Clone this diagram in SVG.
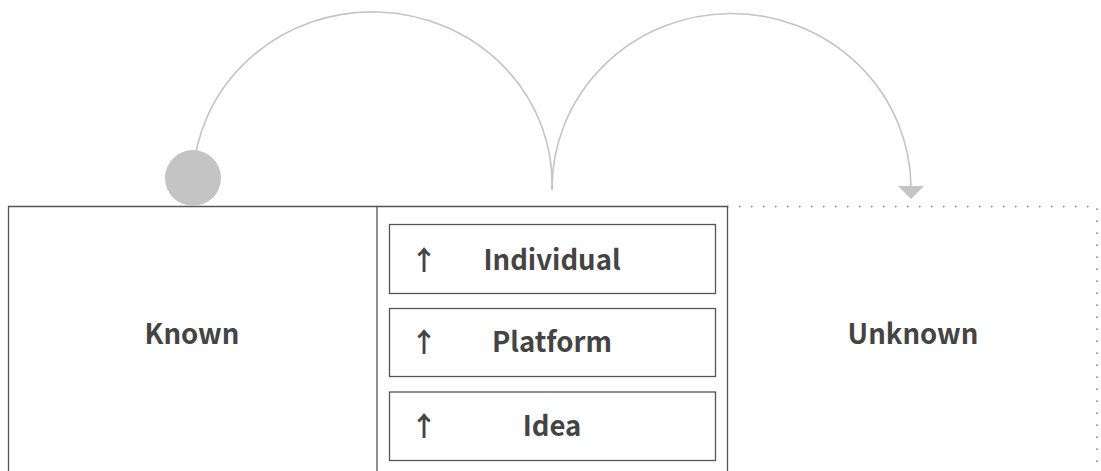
<svg xmlns="http://www.w3.org/2000/svg" width="1101" height="471" viewBox="0 0 1101 471">
<style>
.frame{fill:none;stroke:#555;stroke-width:1.3}
.dotted{fill:none;stroke:#777;stroke-width:1.5;stroke-dasharray:1.5 10.5}
.conn{fill:none;stroke:#c4c4c4;stroke-width:1.6}
.lbl{font-family:"Noto Sans CJK SC","Noto Sans",sans-serif;font-weight:700;font-size:27.5px;fill:#444;text-anchor:middle}
.arr{font-family:"Noto Sans CJK SC","Noto Sans",sans-serif;font-weight:700;font-size:27px;fill:#444;text-anchor:middle}
</style>
<rect width="1101" height="471" fill="#fff"/>
<g id="unknown">
<path class="dotted" d="M727,206.5 H1097 V471"/>
<text class="lbl" x="913" y="344">Unknown</text>
</g>
<g id="known">
<path class="frame" d="M8.5,471 V206.5 H377"/>
<text class="lbl" x="192" y="344">Known</text>
</g>
<g id="middle">
<path class="frame" d="M377,471 V206.5 H727.5 V471"/>
</g>
<g id="individual">
<rect class="frame" x="389.5" y="224.5" width="326" height="69"/>
<text class="arr" x="424" y="270">↑</text>
<text class="lbl" x="552" y="270">Individual</text>
</g>
<g id="platform">
<rect class="frame" x="389.5" y="308.5" width="326" height="68"/>
<text class="arr" x="424" y="352">↑</text>
<text class="lbl" x="552" y="352">Platform</text>
</g>
<g id="idea">
<rect class="frame" x="389.5" y="392" width="326" height="68.5"/>
<text class="arr" x="424" y="436">↑</text>
<text class="lbl" x="552" y="436">Idea</text>
</g>
<g id="connectors">
<path class="conn" d="M193,178 A179.5 172 0 0 1 552,190"/>
<path class="conn" d="M552,190 A179.5 175 0 0 1 911,187"/>
<circle cx="193" cy="178" r="28" fill="#c4c4c4"/>
<polygon points="898,186 924,186 911,199" fill="#c4c4c4"/>
</g>
</svg>
